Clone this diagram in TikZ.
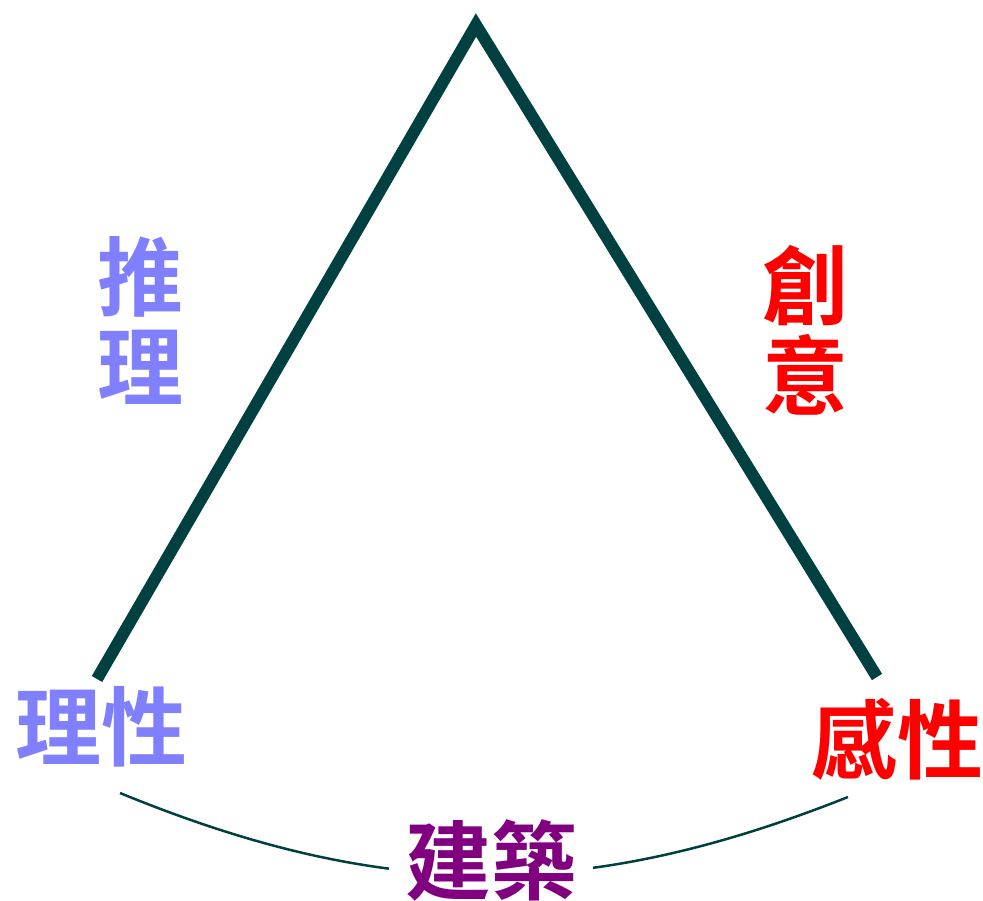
\documentclass[tikz,border=0pt]{standalone}
\usepackage{fontspec}
\newfontfamily\cjk[BoldFont={Noto Sans CJK TC Bold}]{Noto Sans CJK TC}
\usepackage{tikz}
\usetikzlibrary{positioning}
\definecolor{edgeteal}{RGB}{0,64,64}
\definecolor{reasonblue}{RGB}{128,128,255}
\definecolor{feelred}{RGB}{255,0,0}
\definecolor{buildpurple}{RGB}{128,0,128}

\begin{document}
\begin{tikzpicture}[
    x=1pt, y=1pt,
    side/.style={line width=12pt, edgeteal, line join=miter},
    link/.style={line width=2.5pt, edgeteal},
    word/.style={font=\cjk\bfseries\fontsize{86}{90}\selectfont, inner sep=0pt, align=center},
  ]
    \useasboundingbox (0,0) rectangle (983,-901);
    % corners of the triangle
    \coordinate (top) at (476,-25);
    \coordinate (L) at (97,-679);
    \coordinate (R) at (877,-677);
    \draw[side] (L) -- (top) -- (R);
    % labels
    \node[word, reasonblue] (infer) at (140,-320) {推\\理};
    \node[word, feelred] (create) at (805,-330) {創\\意};
    \node[word, reasonblue] (reason) at (102,-727) {理性};
    \node[word, feelred] (sense) at (897,-739) {感性};
    % bottom arc
    \coordinate (arcL) at (120,-793);
    \coordinate (arcR) at (848,-797);
    \draw[link] (arcL) to[bend right=22] (arcR);
    \node[word, buildpurple, fill=white, inner xsep=16pt] (build) at (491,-860) {建築};
  \end{tikzpicture}
\end{document}
